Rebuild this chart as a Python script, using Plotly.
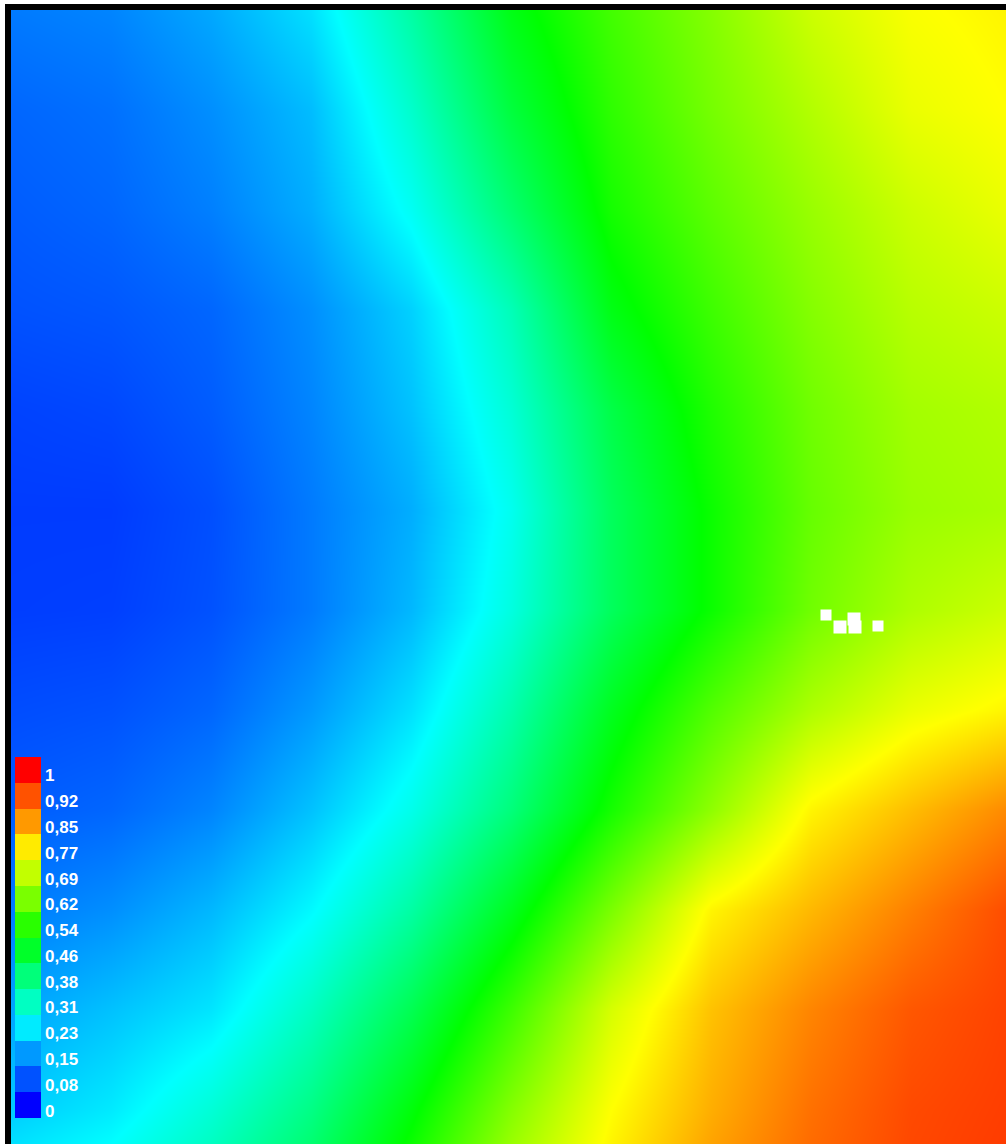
import plotly.graph_objects as go

# grid positions (field units, 0..995 across, 0..1134 down)
x_cols = [0, 100, 200, 300, 400, 500, 600, 700, 800, 900, 995]
y_rows = [0, 100, 200, 300, 400, 500, 600, 700, 800, 900, 1000, 1100, 1134]

# field values, one list per row (top to bottom)
row_0000 = [0.12, 0.13, 0.165, 0.22, 0.34, 0.48, 0.565, 0.63, 0.70, 0.745, 0.76]
row_0100 = [0.10, 0.11, 0.14, 0.185, 0.30, 0.44, 0.545, 0.615, 0.675, 0.73, 0.75]
row_0200 = [0.09, 0.10, 0.125, 0.17, 0.26, 0.39, 0.52, 0.59, 0.65, 0.70, 0.73]
row_0300 = [0.08, 0.085, 0.10, 0.14, 0.205, 0.32, 0.48, 0.56, 0.63, 0.68, 0.70]
row_0400 = [0.065, 0.07, 0.09, 0.13, 0.19, 0.29, 0.43, 0.53, 0.61, 0.66, 0.675]
row_0500 = [0.058, 0.058, 0.077, 0.12, 0.17, 0.265, 0.41, 0.51, 0.60, 0.65, 0.665]
row_0600 = [0.06, 0.062, 0.08, 0.12, 0.18, 0.28, 0.41, 0.51, 0.61, 0.67, 0.70]
row_0700 = [0.075, 0.08, 0.10, 0.15, 0.22, 0.33, 0.47, 0.58, 0.67, 0.73, 0.76]
row_0800 = [0.09, 0.10, 0.13, 0.19, 0.27, 0.38, 0.52, 0.64, 0.76, 0.815, 0.865]
row_0900 = [0.12, 0.14, 0.18, 0.245, 0.34, 0.47, 0.62, 0.76, 0.82, 0.875, 0.925]
row_1000 = [0.16, 0.19, 0.225, 0.31, 0.42, 0.56, 0.71, 0.81, 0.87, 0.915, 0.935]
row_1100 = [0.20, 0.23, 0.29, 0.37, 0.49, 0.63, 0.75, 0.83, 0.89, 0.928, 0.94]
row_1134 = [0.22, 0.25, 0.31, 0.39, 0.51, 0.65, 0.76, 0.84, 0.895, 0.93, 0.942]

# white (no-data) cells
blank_x = [815, 829, 843, 844, 867]
blank_y = [605, 617, 609, 617, 616]
blank_size = [11, 13, 13, 13, 11]

# legend
legend_values = [0, 0.08, 0.15, 0.23, 0.31, 0.38, 0.46, 0.54, 0.62, 0.69, 0.77, 0.85, 0.92, 1]
legend_labels = ["0", "0,08", "0,15", "0,23", "0,31", "0,38", "0,46", "0,54",
                 "0,62", "0,69", "0,77", "0,85", "0,92", "1"]

rainbow = [[0.0, "rgb(0,0,255)"], [0.25, "rgb(0,255,255)"], [0.5, "rgb(0,255,0)"],
           [0.75, "rgb(255,255,0)"], [1.0, "rgb(255,0,0)"]]

z = [row_0000, row_0100, row_0200, row_0300, row_0400, row_0500, row_0600,
     row_0700, row_0800, row_0900, row_1000, row_1100, row_1134]

W, H = 1006, 1144

fig = go.Figure()
fig.add_trace(go.Heatmap(x=x_cols, y=y_rows, z=z, colorscale=rainbow, zmin=0, zmax=1,
                         zsmooth="best", showscale=False, hoverinfo="skip"))
fig.add_trace(go.Scatter(x=blank_x, y=blank_y, mode="markers",
                         marker=dict(symbol="square", color="white", size=blank_size,
                                     opacity=1, line=dict(width=0)),
                         hoverinfo="skip", showlegend=False))

idx = list(range(len(legend_values)))
fig.add_trace(go.Heatmap(x=[0], y=idx, z=[[v] for v in legend_values], colorscale=rainbow,
                         zmin=0, zmax=1, showscale=False, xaxis="x2", yaxis="y2", hoverinfo="skip"))

for i, lab in zip(idx, legend_labels):
    fig.add_annotation(x=43 / W, xref="paper", xanchor="left", y=i, yref="y2", yanchor="middle",
                       yshift=-6, text=lab, showarrow=False,
                       font=dict(family="Liberation Sans, Arial", size=17, color="white", weight="bold"))

fig.update_layout(
    width=W, height=H, margin=dict(l=0, r=0, t=0, b=0),
    paper_bgcolor="white", plot_bgcolor="white", showlegend=False,
    xaxis=dict(domain=[11 / W, 1], range=[0, 995], side="top", showline=True, linewidth=6,
               linecolor="black", showgrid=False, zeroline=False, showticklabels=False, ticks=""),
    yaxis=dict(domain=[0, (H - 10) / H], range=[1134, 0], showline=True, linewidth=6,
               linecolor="black", showgrid=False, zeroline=False, showticklabels=False, ticks=""),
    xaxis2=dict(domain=[15 / W, 41 / W], range=[-0.5, 0.5], anchor="y2", visible=False),
    yaxis2=dict(domain=[(H - 1118) / H, (H - 757) / H], range=[-0.5, 13.5], anchor="x2", visible=False),
)

fig.write_html("out.html", config={"displayModeBar": False},
               post_script="document.body.style.margin='0';document.body.style.overflow='hidden';")
